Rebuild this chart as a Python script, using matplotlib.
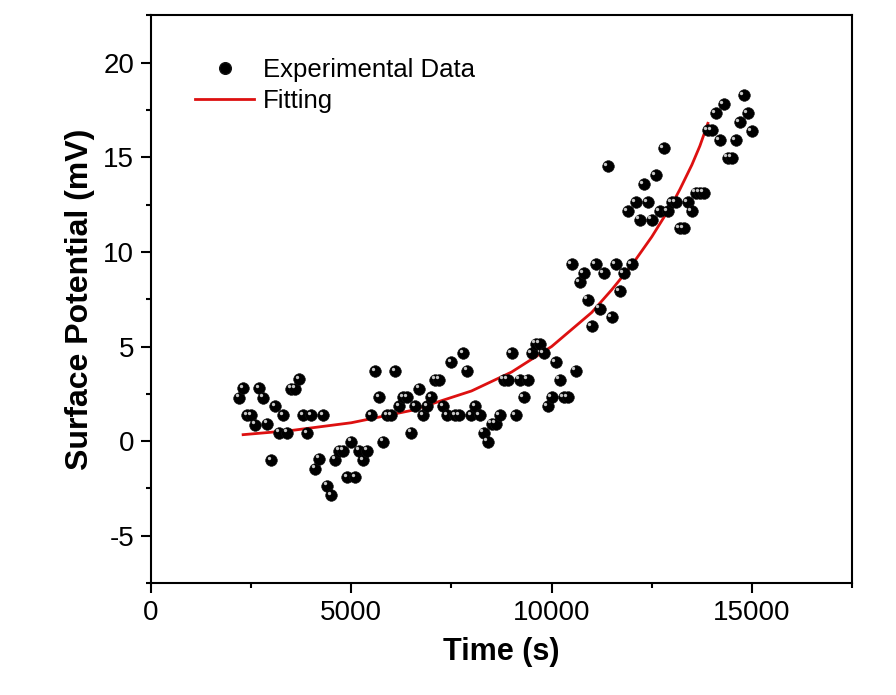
import matplotlib
matplotlib.use("Agg")
import matplotlib.pyplot as plt
import matplotlib.transforms as mtransforms
import numpy as np
from matplotlib.lines import Line2D

plt.rcParams['font.family'] = ['Liberation Sans', 'DejaVu Sans']
plt.rcParams['axes.unicode_minus'] = False

# experimental data: one reading every 100 s starting at 2200 s
time_start = 2200
time_step = 100
potential = [
    2.29, 2.80, 1.37, 1.37, 0.87, 2.80, 2.29, 0.91, -1.00, 1.84,
    0.43, 1.37, 0.43, 2.76, 2.76, 3.26, 1.37, 0.41, 1.37, -1.46,
    -0.94, 1.37, -2.36, -2.85, -0.98, -0.50, -0.50, -1.92, -0.03, -1.92,
    -0.50, -1.00, -0.50, 1.37, 3.70, 2.32, -0.04, 1.37, 1.37, 3.70,
    1.84, 2.32, 2.32, 0.43, 1.84, 2.78, 1.37, 1.84, 2.32, 3.24,
    3.24, 1.84, 1.37, 4.17, 1.37, 1.37, 4.65, 3.72, 1.37, 1.84,
    1.37, 0.43, -0.03, 0.91, 0.91, 1.37, 3.24, 3.24, 4.65, 1.37,
    3.24, 2.32, 3.24, 4.65, 5.14, 5.14, 4.65, 1.84, 2.32, 4.17,
    3.24, 2.32, 2.32, 9.34, 3.72, 8.39, 8.88, 7.47, 6.08, 9.34,
    7.00, 8.88, 14.53, 6.54, 9.34, 7.93, 8.88, 12.16, 9.34, 12.64,
    11.71, 13.58, 12.64, 11.71, 14.06, 12.16, 15.47, 12.16, 12.64, 12.64,
    11.24, 11.24, 12.64, 12.16, 13.12, 13.12, 13.12, 16.44, 16.44, 17.34,
    15.90, 17.81, 14.99, 14.99, 15.90, 16.86, 18.29, 17.34, 16.38,
]
time = time_start + time_step * np.arange(len(potential))

# fitted curve
fit_time = [2300, 3500, 5000, 6500, 8000, 9000, 10000, 11000, 11500,
            12000, 12500, 13000, 13200, 13500, 13700, 13900]
fit_potential = [0.34, 0.56, 0.97, 1.62, 2.65, 3.65, 5.00, 6.80, 8.00,
                 9.30, 10.80, 12.50, 13.30, 14.60, 15.60, 16.80]

fit_color = '#dd1010'

fig = plt.figure(figsize=(8.96, 6.95), dpi=100)
ax = fig.add_axes([0.1685, 0.1612, 0.7825, 0.8165])

ax.plot(fit_time, fit_potential, color=fit_color, lw=2.0, zorder=2,
        solid_joinstyle='round')

ax.plot(time, potential, ls='none', marker='o', ms=8.4,
        mfc='black', mec='#111111', mew=0.4, zorder=3)
shine = mtransforms.ScaledTranslation(-1.8 / 72, 1.8 / 72, fig.dpi_scale_trans)
ax.plot(time, potential, ls='none', marker='o', ms=2.4, mfc='#c8c8c8',
        mec='none', transform=ax.transData + shine, zorder=4)

ax.set_xlim(0, 17500)
ax.set_ylim(-7.5, 22.5)
ax.set_xticks([0, 5000, 10000, 15000])
ax.set_xticks([2500, 7500, 12500, 17500], minor=True)
ax.set_yticks([-5, 0, 5, 10, 15, 20])
ax.set_yticks([-7.5, -2.5, 2.5, 7.5, 12.5, 17.5, 22.5], minor=True)

for side in ax.spines.values():
    side.set_linewidth(1.5)
ax.tick_params(which='major', direction='out', length=7, width=1.5,
               labelsize=20, pad=5, top=False, right=False)
ax.tick_params(which='minor', direction='out', length=3.8, width=1.5,
               top=False, right=False)

ax.set_xlabel('Time (s)', fontsize=22, fontweight='bold', labelpad=8)
ax.set_ylabel('Surface Potential (mV)', fontsize=23, fontweight='bold', labelpad=6)

dot = Line2D([], [], ls='none', marker='o', ms=8.4, mfc='black', mec='#111111')
fit_handle = Line2D([], [], color=fit_color, lw=2.0)
ax.legend([dot, fit_handle], ['Experimental Data', 'Fitting'],
          loc='upper left', bbox_to_anchor=(0.063, 0.925), frameon=False,
          fontsize=18.5, handlelength=2.3, handletextpad=0.33,
          labelspacing=0.28, borderpad=0, borderaxespad=0)

fig.savefig('out.png', dpi=100)
